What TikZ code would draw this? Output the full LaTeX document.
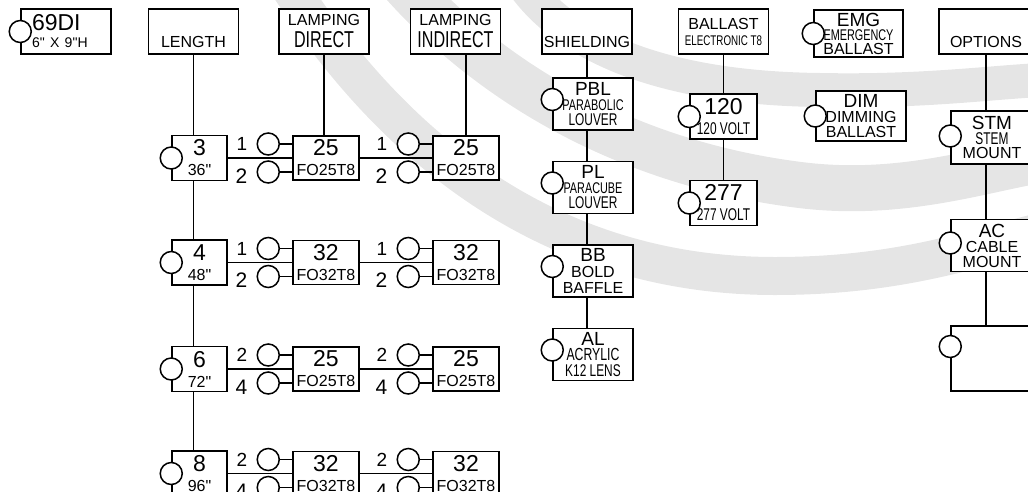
\documentclass[tikz,border=0pt]{standalone}
\usepackage{fontspec}
\setmainfont{Liberation Sans}
\newfontfamily\condfont[FakeStretch=0.7]{Liberation Sans}
\newfontfamily\plainfont{Liberation Sans}
\usetikzlibrary{positioning}

\newcommand\szA{\fontsize{23}{23}\selectfont}
\newcommand\szB{\fontsize{19}{19}\selectfont}
\newcommand\nar[1]{\condfont\fontsize{#1}{#1}\selectfont}
\newcommand\inch{{\plainfont\char34}}

\tikzset{
  cell/.style={draw, fill=white, line width=1.5pt, inner sep=0pt, align=center,
    font=\fontsize{16}{20}\selectfont},
  hdr/.style={cell, minimum width=90pt, minimum height=45pt},
  hdrlow/.style={hdr, text height=35pt, text depth=4pt},
  lenbox/.style={cell, minimum width=55pt, minimum height=45pt},
  lampbox/.style={cell, minimum width=66pt, minimum height=44pt},
  shdbox/.style={cell, minimum width=80pt, minimum height=52pt},
  voltbox/.style={cell, minimum width=67pt, minimum height=45pt},
  optbox/.style={cell, minimum width=82pt, minimum height=52pt},
  knob/.style={circle, draw, fill=white, line width=1.5pt, minimum size=22pt, inner sep=0pt},
  up/.style={label={[font=\fontsize{19}{19}\selectfont, inner sep=1pt, label distance=8pt]left:#1}},
  dn/.style={label={[font=\fontsize{21}{21}\selectfont, inner sep=1pt, label distance=8pt, yshift=-4pt]left:#1}},
  wire/.style={line width=1.4pt},
  band/.style={draw=black!10},
}

\begin{document}
\begin{tikzpicture}[x=1pt, y=-1pt]
  \useasboundingbox (0,0) rectangle (1028,491);
  \clip (0,0) rectangle (1028,491);
  % background swooshes
  \draw[band, line width=38pt] (285,-20) .. controls (400,160) and (560,276) .. (775,276) .. controls (900,276) and (975,248) .. (1040,232);
  \draw[band, line width=46pt] (400,-20) .. controls (470,60) and (600,160) .. (800,185) .. controls (900,197.5) and (980,170) .. (1040,160);
  \draw[band, line width=34pt] (520,-20) .. controls (560,40) and (650,88) .. (820,90) .. controls (920,92) and (985,83) .. (1040,80);

  % model
  \node[hdr, text width=68pt, align=left, inner xsep=11pt, font=\fontsize{16}{17}\selectfont] (model) at (66,31.5) {{\szA 69DI}\\{\fontsize{14}{14}\selectfont 6\inch{} X 9\inch H}};
  \node[knob] (modelk) at (model.west) {};

  % headers
  \node[hdrlow] (len) at (193.5,31.5) {LENGTH};
  \node[hdr, right=39pt of len, font=\fontsize{16}{22}\selectfont] (ldir) {LAMPING\\{\nar{23}DIRECT}};
  \node[hdr, right=40pt of ldir, font=\fontsize{16}{22}\selectfont] (lind) {LAMPING\\{\nar{23}INDIRECT}};
  \node[hdrlow] (shd) at (587,31.5) {SHIELDING};
  \node[hdr, font=\fontsize{16}{16}\selectfont] (bal) at (723.5,31.5) {BALLAST\\{\nar{14}ELECTRONIC T8}};
  \node[hdrlow, minimum width=94pt] (opt) at (986,31.5) {OPTIONS};

  % length rows
  \node[lenbox] (b3) at (199.5,158) {{\szA 3}\\36\inch};
  \node[lenbox, below=58pt of b3] (b4) {{\szA 4}\\48\inch};
  \node[lenbox, below=60pt of b4] (b6) {{\szA 6}\\72\inch};
  \node[lenbox, below=58pt of b6] (b8) {{\szA 8}\\96\inch};
  \node[knob] (b3k) at (b3.west) {};
  \node[knob] (b4k) at (b4.west) {};
  \node[knob] (b6k) at (b6.west) {};
  \node[knob] (b8k) at (b8.west) {};

  % lamping direct / indirect
  \node[lampbox, right=64.5pt of b3] (d3) {{\szA 25}\\FO25T8};
  \node[lampbox, right=72.5pt of d3] (i3) {{\szA 25}\\FO25T8};
  \node[lampbox, right=64.5pt of b4] (d4) {{\szA 32}\\FO32T8};
  \node[lampbox, right=72.5pt of d4] (i4) {{\szA 32}\\FO32T8};
  \node[lampbox, right=64.5pt of b6] (d6) {{\szA 25}\\FO25T8};
  \node[lampbox, right=72.5pt of d6] (i6) {{\szA 25}\\FO25T8};
  \node[lampbox, right=64.5pt of b8] (d8) {{\szA 32}\\FO32T8};
  \node[lampbox, right=72.5pt of d8] (i8) {{\szA 32}\\FO32T8};

  \node[knob, up=1] (d3a) at ([xshift=-24pt,yshift=14pt]d3.west) {};
  \node[knob, dn=2] (d3b) at ([xshift=-24pt,yshift=-14pt]d3.west) {};
  \node[knob, up=1] (i3a) at ([xshift=-24pt,yshift=14pt]i3.west) {};
  \node[knob, dn=2] (i3b) at ([xshift=-24pt,yshift=-14pt]i3.west) {};
  \node[knob, up=1] (d4a) at ([xshift=-24pt,yshift=14pt]d4.west) {};
  \node[knob, dn=2] (d4b) at ([xshift=-24pt,yshift=-14pt]d4.west) {};
  \node[knob, up=1] (i4a) at ([xshift=-24pt,yshift=14pt]i4.west) {};
  \node[knob, dn=2] (i4b) at ([xshift=-24pt,yshift=-14pt]i4.west) {};
  \node[knob, up=2] (d6a) at ([xshift=-24pt,yshift=14pt]d6.west) {};
  \node[knob, dn=4] (d6b) at ([xshift=-24pt,yshift=-14pt]d6.west) {};
  \node[knob, up=2] (i6a) at ([xshift=-24pt,yshift=14pt]i6.west) {};
  \node[knob, dn=4] (i6b) at ([xshift=-24pt,yshift=-14pt]i6.west) {};
  \node[knob, up=2] (d8a) at ([xshift=-24pt,yshift=14pt]d8.west) {};
  \node[knob, dn=4] (d8b) at ([xshift=-24pt,yshift=-14pt]d8.west) {};
  \node[knob, up=2] (i8a) at ([xshift=-24pt,yshift=14pt]i8.west) {};
  \node[knob, dn=4] (i8b) at ([xshift=-24pt,yshift=-14pt]i8.west) {};

  % shielding
  \node[shdbox, font=\fontsize{16}{15}\selectfont] (pbl) at (593,104) {{\szB PBL}\\{\nar{15.5}PARABOLIC}\\{\nar{17}LOUVER}};
  \node[shdbox, below=30pt of pbl, font=\fontsize{16}{15}\selectfont] (pl) {{\szB PL}\\{\nar{15.5}PARACUBE}\\{\nar{17}LOUVER}};
  \node[shdbox, below=30pt of pl, font=\fontsize{16}{16}\selectfont] (bb) {{\szB BB}\\BOLD\\BAFFLE};
  \node[shdbox, below=30pt of bb, font=\fontsize{16}{15.5}\selectfont] (al) {{\szB AL}\\{\nar{17.5}ACRYLIC}\\{\nar{17}K12 LENS}};
  \node[knob] (pblk) at ([yshift=4.5pt]pbl.west) {};
  \node[knob] (plk) at ([yshift=4.5pt]pl.west) {};
  \node[knob] (bbk) at ([yshift=4.5pt]bb.west) {};
  \node[knob] (alk) at ([yshift=4.5pt]al.west) {};

  % ballast
  \node[voltbox] (v120) at (723.5,116.5) {{\szA 120}\\{\nar{17}120 VOLT}};
  \node[voltbox, below=40pt of v120] (v277) {{\szA 277}\\{\nar{17}277 VOLT}};
  \node[knob] (v120k) at (v120.west) {};
  \node[knob] (v277k) at (v277.west) {};
  \node[hdr, minimum width=89pt, minimum height=47pt, font=\fontsize{16}{14}\selectfont] (emg) at (858.5,33.5) {{\szB EMG}\\{\nar{15.5}EMERGENCY}\\BALLAST};
  \node[hdr, minimum height=50pt, font=\fontsize{16}{15}\selectfont] (dim) at (861,116) {{\szB DIM}\\DIMMING\\BALLAST};
  \node[knob] (emgk) at (emg.west) {};
  \node[knob] (dimk) at (dim.west) {};

  % options
  \node[optbox, minimum height=53pt, font=\fontsize{16}{14.5}\selectfont] (stm) at (992,137.5) {{\szB STM}\\{\nar{17}STEM}\\MOUNT};
  \node[optbox, below=54pt of stm, font=\fontsize{16}{15}\selectfont] (ac) {{\szB AC}\\CABLE\\MOUNT};
  \node[optbox, below=53pt of ac, minimum height=65pt] (blank) {};
  \node[knob] (stmk) at ([yshift=1.5pt]stm.west) {};
  \node[knob] (ack) at ([yshift=2.5pt]ac.west) {};
  \node[knob] (blankk) at ([yshift=12pt]blank.west) {};

  % connectors
  \draw[wire] (len.south) -- (len.south |- b3.north);
  \draw[wire] (len.south |- b3.south) -- (len.south |- b4.north);
  \draw[wire] (len.south |- b4.south) -- (len.south |- b6.north);
  \draw[wire] (len.south |- b6.south) -- (len.south |- b8.north);
  \draw[wire] (ldir.south) -- (ldir.south |- d3.north);
  \draw[wire] (i3.north |- lind.south) -- (i3.north);
  \draw[wire] (b3) -- (d3) (d3) -- (i3);
  \draw[wire] (b4) -- (d4) (d4) -- (i4);
  \draw[wire] (b6) -- (d6) (d6) -- (i6);
  \draw[wire] (b8) -- (d8) (d8) -- (i8);
  \draw[wire] (d3a) -- (d3a -| d3.west) (d3b) -- (d3b -| d3.west);
  \draw[wire] (i3a) -- (i3a -| i3.west) (i3b) -- (i3b -| i3.west);
  \draw[wire] (d4a) -- (d4a -| d4.west) (d4b) -- (d4b -| d4.west);
  \draw[wire] (i4a) -- (i4a -| i4.west) (i4b) -- (i4b -| i4.west);
  \draw[wire] (d6a) -- (d6a -| d6.west) (d6b) -- (d6b -| d6.west);
  \draw[wire] (i6a) -- (i6a -| i6.west) (i6b) -- (i6b -| i6.west);
  \draw[wire] (d8a) -- (d8a -| d8.west) (d8b) -- (d8b -| d8.west);
  \draw[wire] (i8a) -- (i8a -| i8.west) (i8b) -- (i8b -| i8.west);
  \draw[wire] (shd.south) -- (shd.south |- pbl.north);
  \draw[wire] (shd.south |- pbl.south) -- (shd.south |- pl.north);
  \draw[wire] (shd.south |- pl.south) -- (shd.south |- bb.north);
  \draw[wire] (shd.south |- bb.south) -- (shd.south |- al.north);
  \draw[wire] (bal) -- (v120);
  \draw[wire] (v120) -- (v277);
  \draw[wire] (opt.south) -- (opt.south |- stm.north);
  \draw[wire] (opt.south |- stm.south) -- (opt.south |- ac.north);
  \draw[wire] (opt.south |- ac.south) -- (opt.south |- blank.north);
\end{tikzpicture}
\end{document}
